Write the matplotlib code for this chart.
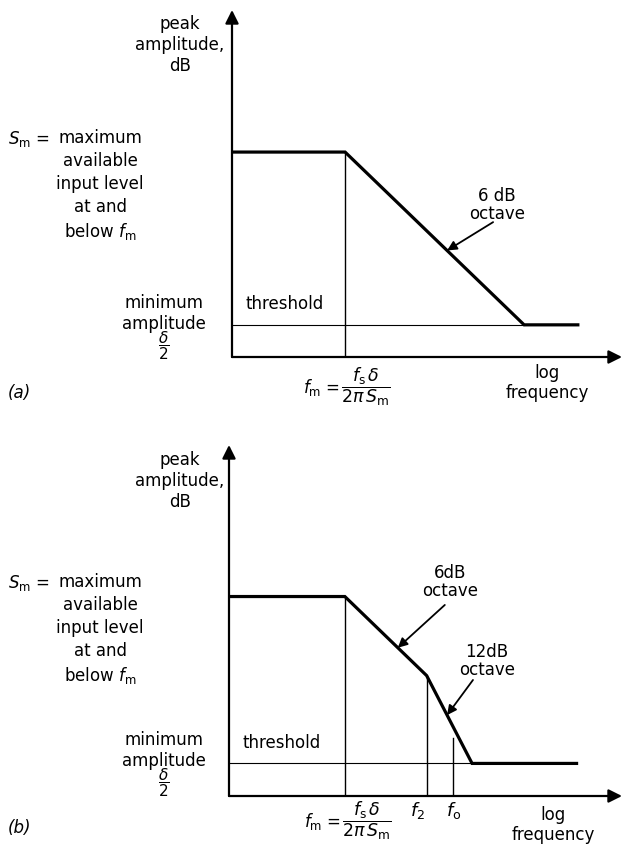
import matplotlib
matplotlib.use("Agg")
import matplotlib.pyplot as plt

plt.rcParams['font.family'] = ['DejaVu Sans']
plt.rcParams['mathtext.fontset'] = 'dejavusans'
plt.rcParams['font.size'] = 12

# Panel (a): breakpoints, octaves relative to f_m, level in dB above threshold
a_oct = [-3.79, 0.0, 6.0, 7.8]
a_db = [36.0, 36.0, 0.0, 0.0]
a_fm = 0.0

# Panel (b): 6 dB/octave down to f2, then 12 dB/octave
b_oct = [-5.1, 0.0, 3.6, 5.6, 10.2]
b_db = [45.6, 45.6, 24.0, 0.0, 0.0]
b_fm = 0.0
b_f2 = 3.6
b_f0 = 4.76
b_f0_top = 7.0

W, H = 623, 846


def P(x, y):
    # pixel position -> figure fraction
    return x / W, 1 - y / H


fig = plt.figure(figsize=(6.23, 8.46), dpi=100)
fig.patch.set_facecolor('white')


def draw_axes(ax):
    ax.axis('off')
    arrow = dict(arrowstyle='-|>', color='black', lw=1.6, mutation_scale=20,
                 shrinkA=0, shrinkB=0)
    ax.annotate('', xy=(0, 1), xytext=(0, 0), xycoords='axes fraction',
                textcoords='axes fraction', arrowprops=arrow, annotation_clip=False)
    ax.annotate('', xy=(1, 0), xytext=(0, 0), xycoords='axes fraction',
                textcoords='axes fraction', arrowprops=arrow, annotation_clip=False)


def side_labels(y0, sm_y, min_y):
    fig.text(*P(180, y0), 'peak\namplitude,\ndB', ha='center', va='center',
             linespacing=1.2)
    fig.text(*P(100, sm_y), 'maximum\navailable\ninput level\nat and\nbelow $f_\\mathrm{m}$',
             ha='center', va='top', linespacing=1.35)
    fig.text(*P(8, sm_y), '$S_\\mathrm{m}$ =', ha='left', va='top')
    fig.text(*P(164, min_y), 'minimum\namplitude', ha='center', va='top',
             linespacing=1.2)
    fig.text(*P(164, min_y + 52), r'$\dfrac{\delta}{2}$', ha='center', va='center',
             fontsize=11)


def fm_label(x_eq, y):
    fig.text(*P(x_eq, y), r'$f_\mathrm{m}$ =', ha='right', va='center', fontsize=12)
    fig.text(*P(x_eq + 1, y), r'$\dfrac{f_\mathrm{s}\,\delta}{2\pi\, S_\mathrm{m}}$',
             ha='left', va='center', fontsize=12.5)


# ---------------- panel (a) ----------------
axa = fig.add_axes([232 / W, 1 - 357 / H, 390 / W, 347 / H])
axa.set_xlim(-3.79, 9.28)
axa.set_ylim(-6.7, 65.6)
draw_axes(axa)
axa.plot(a_oct, a_db, color='black', lw=2.3, solid_joinstyle='miter')
axa.plot([a_oct[0], a_oct[2]], [0, 0], color='black', lw=0.8)
axa.plot([a_fm, a_fm], [-6.7, a_db[1]], color='black', lw=1.0)
axa.text(-3.35, 2.5, 'threshold', ha='left', va='bottom')
axa.text(5.1, 25.0, '6 dB\noctave', ha='center', va='center', linespacing=1.0)
axa.annotate('', xy=(3.42, 15.5), xytext=(4.96, 21.4),
             arrowprops=dict(arrowstyle='-|>', color='black', lw=1.3,
                             mutation_scale=14, shrinkA=0, shrinkB=0))

side_labels(45, 129, 294)
fm_label(340, 387)
fig.text(*P(547, 383), 'log\nfrequency', ha='center', va='center', linespacing=1.1)
fig.text(*P(8, 393), '(a)', ha='left', va='center', style='italic')

# ---------------- panel (b) ----------------
axb = fig.add_axes([229 / W, 1 - 796 / H, 393 / W, 351 / H])
axb.set_xlim(-5.1, 12.2)
axb.set_ylim(-8.9, 87.0)
draw_axes(axb)
axb.plot(b_oct, b_db, color='black', lw=2.3, solid_joinstyle='miter')
axb.plot([b_oct[0], b_oct[3]], [0, 0], color='black', lw=0.8)
axb.plot([b_fm, b_fm], [-8.9, b_db[1]], color='black', lw=1.0)
axb.plot([b_f2, b_f2], [-8.9, b_db[2]], color='black', lw=1.0)
axb.plot([b_f0, b_f0], [-8.9, b_f0_top], color='black', lw=1.0)
axb.text(-4.5, 3.0, 'threshold', ha='left', va='bottom')
axb.text(4.63, 49.5, '6dB\noctave', ha='center', va='center', linespacing=1.0)
axb.annotate('', xy=(2.33, 31.6), xytext=(4.4, 43.3),
             arrowprops=dict(arrowstyle='-|>', color='black', lw=1.3,
                             mutation_scale=14, shrinkA=0, shrinkB=0))
axb.text(6.26, 28.0, '12dB\noctave', ha='center', va='center', linespacing=1.0)
axb.annotate('', xy=(4.5, 13.2), xytext=(5.64, 22.8),
             arrowprops=dict(arrowstyle='-|>', color='black', lw=1.3,
                             mutation_scale=14, shrinkA=0, shrinkB=0))

side_labels(481, 573, 731)
fm_label(341, 821)
fig.text(*P(418, 810), r'$f_2$', ha='center', va='center', fontsize=13)
fig.text(*P(454, 810), r'$f_\mathrm{o}$', ha='center', va='center', fontsize=13)
fig.text(*P(553, 825), 'log\nfrequency', ha='center', va='center', linespacing=1.1)
fig.text(*P(8, 828), '(b)', ha='left', va='center', style='italic')

fig.savefig('out.png', dpi=100, facecolor='white')
